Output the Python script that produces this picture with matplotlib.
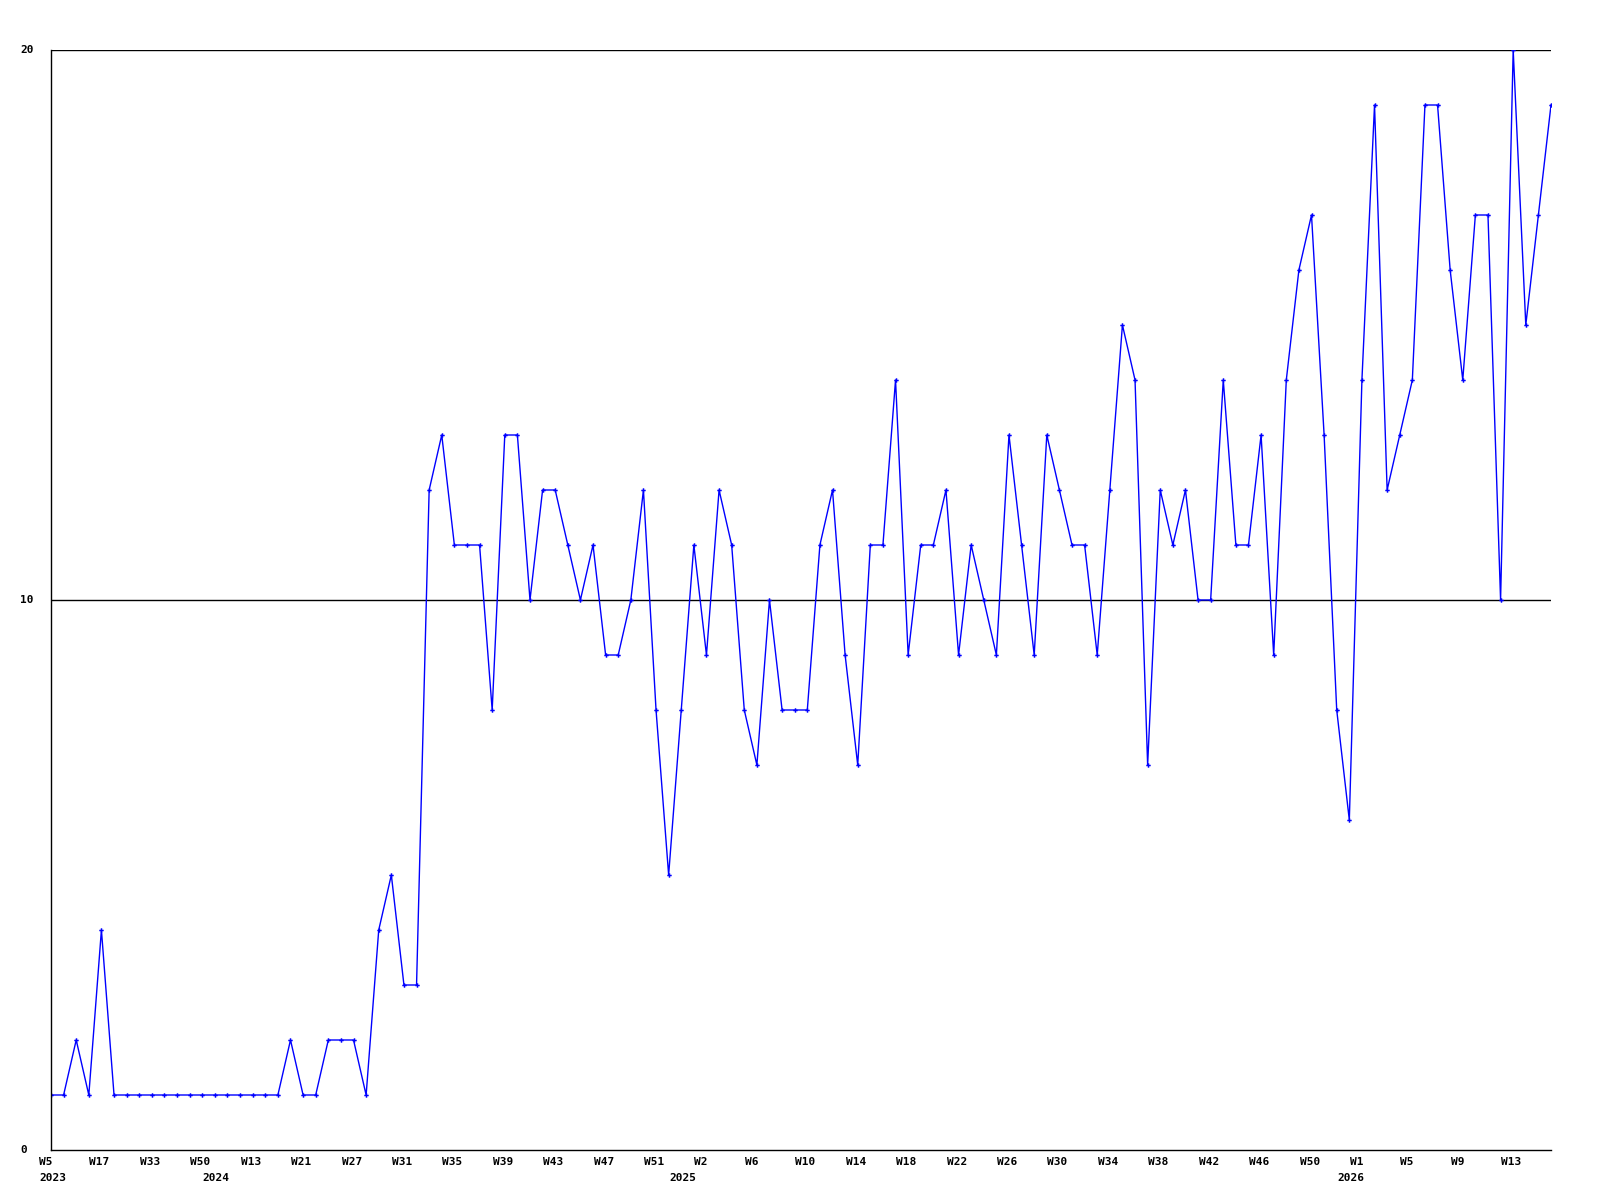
import matplotlib
matplotlib.use("Agg")
import matplotlib.pyplot as plt
import matplotlib.transforms as mtransforms

values = [
    1, 1, 2, 1, 4, 1, 1, 1, 1, 1, 1, 1, 1, 1, 1, 1, 1, 1, 1, 2,
    1, 1, 2, 2, 2, 1, 4, 5, 3, 3, 12, 13, 11, 11, 11, 8, 13, 13, 10, 12,
    12, 11, 10, 11, 9, 9, 10, 12, 8, 5, 8, 11, 9, 12, 11, 8, 7, 10, 8, 8,
    8, 11, 12, 9, 7, 11, 11, 14, 9, 11, 11, 12, 9, 11, 10, 9, 13, 11, 9, 13,
    12, 11, 11, 9, 12, 15, 14, 7, 12, 11, 12, 10, 10, 14, 11, 11, 13, 9, 14, 16,
    17, 13, 8, 6, 14, 19, 12, 13, 14, 19, 19, 16, 14, 17, 17, 10, 20, 15, 17, 19,
]

week_labels = [
    "W5", "W17", "W33", "W50", "W13", "W21", "W27", "W31", "W35", "W39",
    "W43", "W47", "W51", "W2", "W6", "W10", "W14", "W18", "W22", "W26",
    "W30", "W34", "W38", "W42", "W46", "W50", "W1", "W5", "W9", "W13",
]
year_names = ["2023", "2024", "2025", "2026"]
year_pos = [0, 13, 50, 103]  # first point of each year
y_ticks = [0, 10, 20]

x = list(range(len(values)))
week_pos = x[::4]

fig = plt.figure(figsize=(16, 12), dpi=100)
ax = fig.add_axes([51 / 1600, 50 / 1200, 1500 / 1600, 1100 / 1200])

for yv in y_ticks[1:]:
    ax.axhline(yv, color="black", lw=1.0, zorder=1)

ax.plot(x, values, color="#0000ff", lw=1.0, marker="P", markersize=3.2,
        markeredgewidth=0, zorder=2)

ax.set_xlim(0, len(values) - 1)
ax.set_ylim(0, 20)
ax.set_xticks([])
ax.set_yticks([])

for s in ["top", "right"]:
    ax.spines[s].set_visible(False)
for s in ["left", "bottom"]:
    ax.spines[s].set_color("black")
    ax.spines[s].set_linewidth(1.0)

font = dict(fontsize=8, fontfamily="DejaVu Sans Mono", fontweight="bold", color="black")
px = fig.dpi_scale_trans


def shift(dx, dy):
    return mtransforms.ScaledTranslation(dx / 100, dy / 100, px)


xbase = mtransforms.blended_transform_factory(ax.transData, ax.transAxes)
for p, lab in zip(week_pos, week_labels):
    ax.text(p, 0, lab, transform=xbase + shift(-12, -12), ha="left", va="center", **font)
for p, lab in zip(year_pos, year_names):
    ax.text(p, 0, lab, transform=xbase + shift(-12, -28), ha="left", va="center", **font)

ybase = mtransforms.blended_transform_factory(fig.transFigure, ax.transData)
for yv in y_ticks:
    ax.text(20 / 1600, yv, str(yv), transform=ybase, ha="left", va="center", **font)

fig.savefig("out.png", dpi=100)
